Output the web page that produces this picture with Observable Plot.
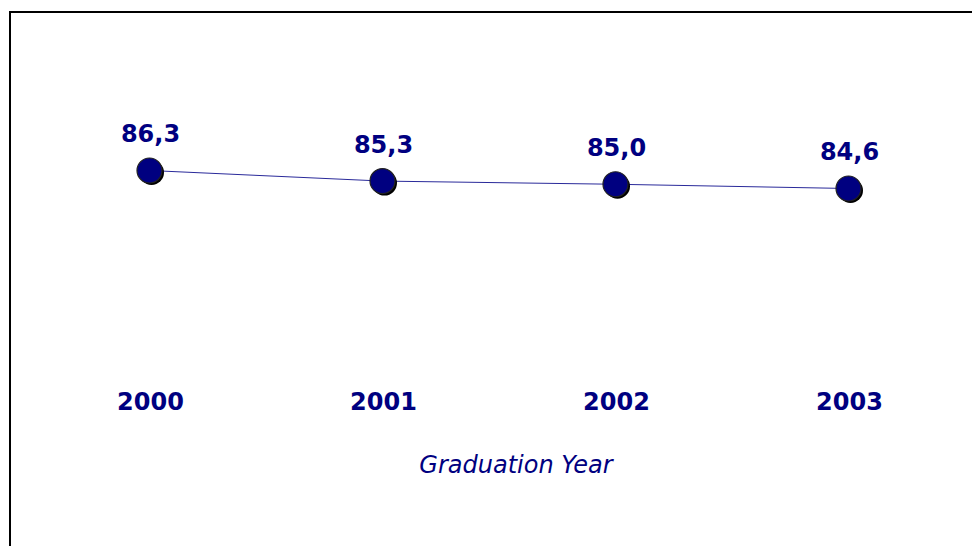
<!DOCTYPE html>
<html>
<head>
<meta charset="utf-8">
<script src="https://cdn.jsdelivr.net/npm/d3@7"></script>
<script src="https://cdn.jsdelivr.net/npm/@observablehq/plot@0.6"></script>
<style>
  html, body { margin: 0; padding: 0; background: #fff; overflow: hidden; width: 972px; height: 546px; }
  #wrap { position: relative; width: 972px; height: 546px; }
  #border { position: absolute; left: 9px; top: 11px; width: 980px; height: 560px; border-top: 2px solid #000; border-left: 2px solid #000; }
  #chart { position: absolute; left: 0; top: 0; }
</style>
</head>
<body>
<div id="wrap"><div id="border"></div><div id="chart"></div></div>
<script>
const years = ["2000", "2001", "2002", "2003"];
const values = [86.3, 85.3, 85.0, 84.6];
const valueLabels = ["86,3", "85,3", "85,0", "84,6"];
const axisTitle = "Graduation Year";

const navy = "#000080";
const data = years.map((y, i) => ({year: y, value: values[i], label: valueLabels[i]}));

const chart = Plot.plot({
  width: 972,
  height: 546,
  marginLeft: 149,
  marginRight: 124,
  marginTop: 20,
  marginBottom: 156,
  x: {type: "point", domain: years, padding: 0, axis: null},
  y: {domain: [84.6, 86.3], range: [188, 170], axis: null},
  style: {fontFamily: "DejaVu Sans, Verdana, sans-serif", background: "transparent", overflow: "visible"},
  marks: [
    Plot.line(data, {x: "year", y: "value", stroke: "#2a2a9a", strokeWidth: 1}),
    Plot.dot(data, {x: "year", y: "value", r: 12.5, fill: "#000", dx: 2, dy: 2}),
    Plot.dot(data, {x: "year", y: "value", r: 12.5, fill: navy, stroke: "#222", strokeWidth: 1.2}),
    Plot.text(data, {x: "year", y: "value", text: "label", dy: -36, dx: 1, fill: navy, fontSize: 24, fontWeight: "bold", letterSpacing: "1.8px"}),
    Plot.text(years, {x: d => d, frameAnchor: "bottom", dy: 19, dx: 1, fill: navy, fontSize: 24, fontWeight: "bold", letterSpacing: "1px"}),
    Plot.text([axisTitle], {frameAnchor: "bottom", dx: 17, dy: 82, fill: navy, fontSize: 24, fontStyle: "italic", letterSpacing: "0.8px"})
  ]
});
document.getElementById("chart").appendChild(chart);
</script>
</body>
</html>
